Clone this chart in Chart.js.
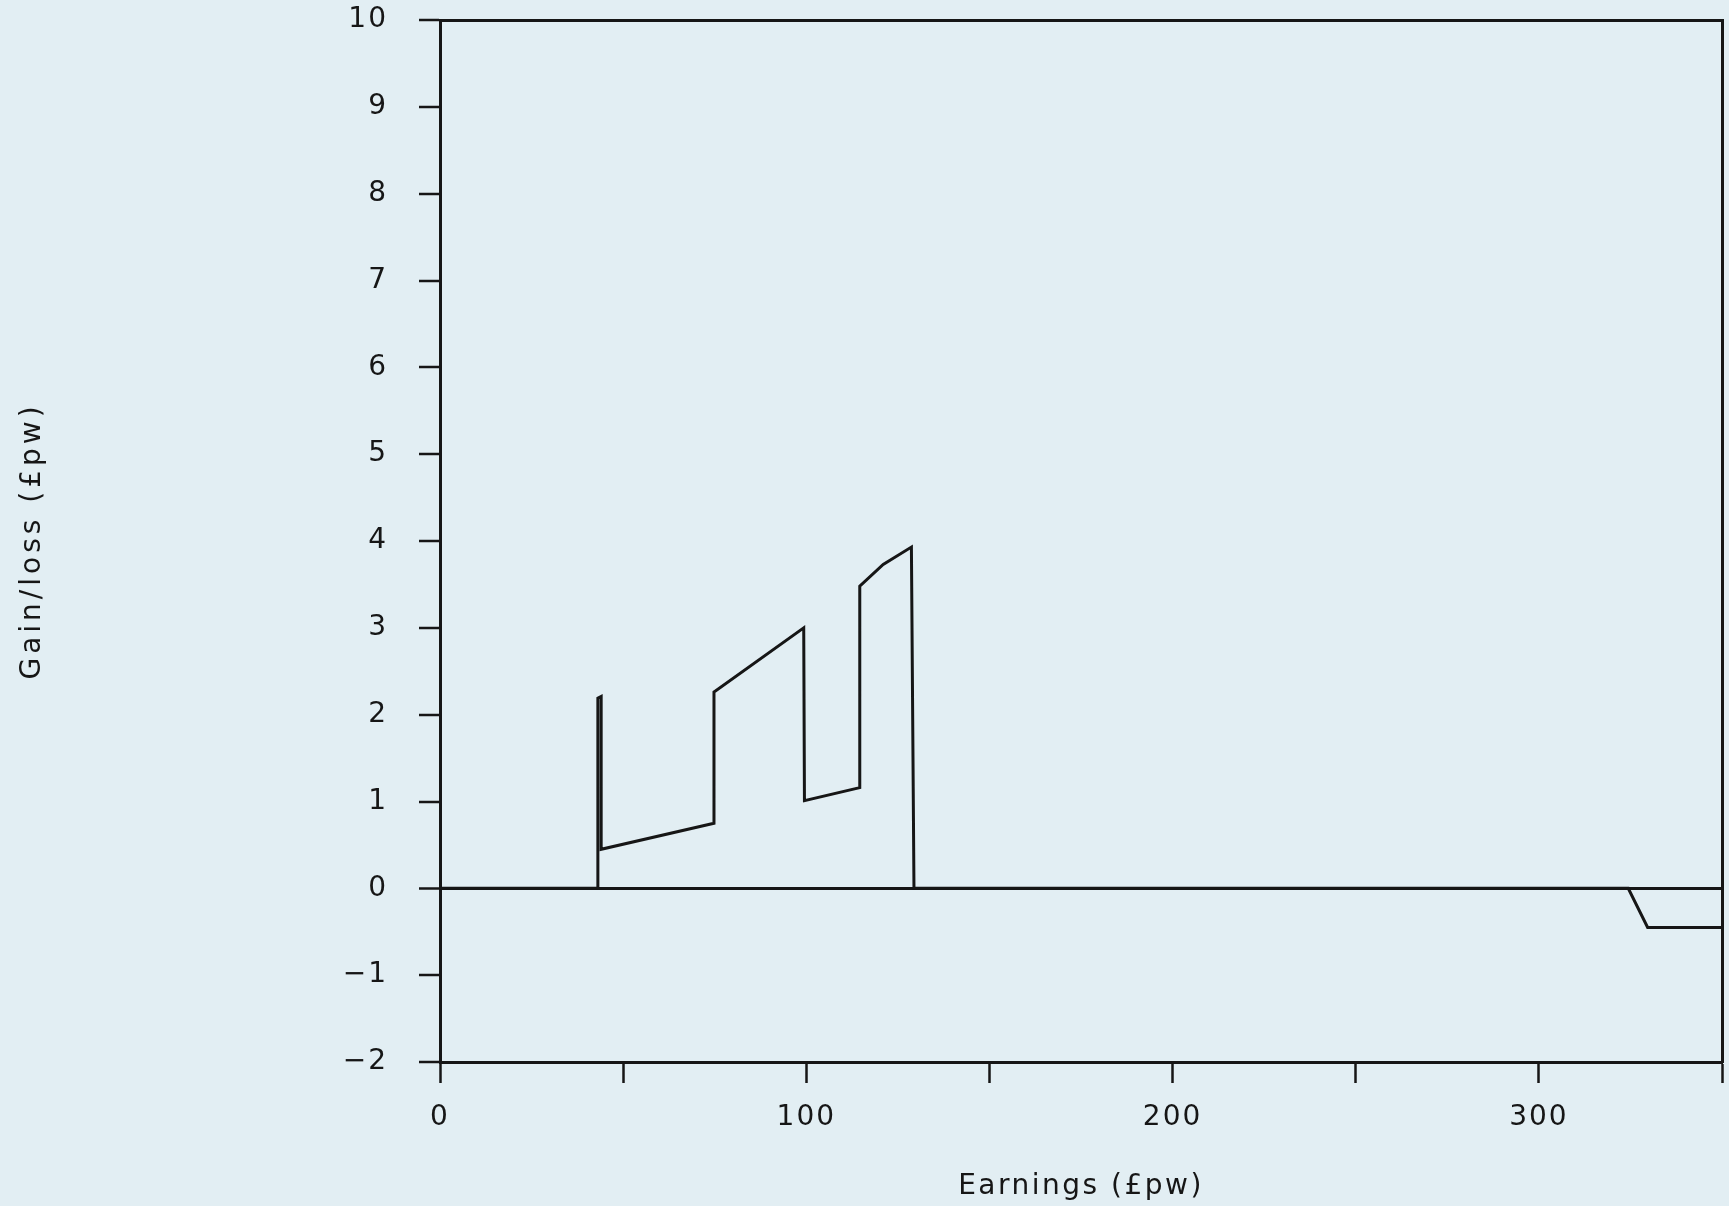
<!DOCTYPE html>
<html>
<head>
<meta charset="utf-8">
<script src="https://cdn.jsdelivr.net/npm/chart.js@4/dist/chart.umd.min.js"></script>
<style>
  html, body { margin: 0; padding: 0; background: #e2eef3; }
  #wrap { width: 1729px; height: 1206px; }
</style>
</head>
<body>
<div id="wrap"><canvas id="c" width="1729" height="1206"></canvas></div>
<script>
// Data
const earnings = [0, 43.1, 43.1, 44.0, 44.0, 74.8, 74.8, 99.3, 99.5, 114.6, 114.6, 121.0, 128.7, 129.4, 324.4, 329.7, 350];
const gainLoss = [0, 0, 2.19, 2.21, 0.45, 0.75, 2.26, 3.00, 1.01, 1.16, 3.48, 3.73, 3.93, 0, 0, -0.45, -0.45];

const xLimits = [0, 350];
const yLimits = [-2, 10];
const xTitle = 'Earnings (£pw)';
const yTitle = 'Gain/loss (£pw)';

const ink = '#161616';
const titleSpacing = { x: '2.5px', y: '4px' };
const tickSpacing = '2px';

function withSpacing(fn, spacing) {
  return function () {
    const ctx = this.ctx;
    const prev = ctx.letterSpacing;
    ctx.letterSpacing = spacing;
    fn.apply(this, arguments);
    ctx.letterSpacing = prev || '0px';
  };
}

const spacedText = {
  id: 'spacedText',
  afterLayout(chart) {
    for (const id of ['x', 'y']) {
      const s = chart.scales[id];
      if (s && !s._spacedText) {
        s.drawTitle = withSpacing(s.drawTitle, titleSpacing[id]);
        s.drawLabels = withSpacing(s.drawLabels, tickSpacing);
        s._spacedText = true;
      }
    }
  }
};

function noPad(scale) {
  scale.paddingTop = 0;
  scale.paddingBottom = 0;
  scale.paddingLeft = 0;
  scale.paddingRight = 0;
}

const points = earnings.map((e, i) => ({ x: e, y: gainLoss[i] }));

new Chart(document.getElementById('c'), {
  type: 'line',
  data: {
    datasets: [{
      data: points,
      borderColor: ink,
      borderWidth: 3,
      pointRadius: 0,
      tension: 0,
      fill: false
    }]
  },
  plugins: [spacedText],
  options: {
    responsive: false,
    animation: false,
    events: [],
    layout: { padding: { top: 20, right: 7, left: 0, bottom: 0 } },
    plugins: { legend: { display: false }, tooltip: { enabled: false } },
    scales: {
      x: {
        type: 'linear',
        position: 'bottom',
        min: xLimits[0], max: xLimits[1],
        afterFit(scale) { scale.height = 144; noPad(scale); },
        ticks: {
          stepSize: 50,
          autoSkip: false,
          maxRotation: 0,
          padding: 18,
          color: ink,
          font: { family: 'DejaVu Sans', size: 28 },
          callback: v => (v % 100 === 0 ? String(v) : '')
        },
        grid: {
          drawOnChartArea: false,
          drawTicks: true,
          tickLength: 21,
          tickWidth: 2.5,
          tickColor: ink
        },
        border: { display: true, color: ink, width: 3 },
        title: {
          display: true,
          text: xTitle,
          color: ink,
          font: { family: 'DejaVu Sans', size: 28 },
          padding: { top: 0, bottom: 2 }
        }
      },
      y: {
        type: 'linear',
        position: 'left',
        min: yLimits[0], max: yLimits[1],
        afterFit(scale) { scale.width = 440; noPad(scale); },
        ticks: {
          stepSize: 1,
          autoSkip: false,
          padding: 31,
          color: ink,
          font: { family: 'DejaVu Sans', size: 28 },
          callback: v => (v < 0 ? '\u2212' + Math.abs(v) : String(v))
        },
        grid: {
          drawOnChartArea: true,
          color: c => (c.tick && c.tick.value === 0 ? ink : 'rgba(0,0,0,0)'),
          lineWidth: c => (c.tick && c.tick.value === 0 ? 3 : 0),
          drawTicks: true,
          tickLength: 21,
          tickWidth: 2.5,
          tickColor: ink
        },
        border: { display: true, color: ink, width: 3 },
        title: {
          display: true,
          text: yTitle,
          color: ink,
          font: { family: 'DejaVu Sans', size: 28 },
          padding: { top: 16, bottom: 0 }
        }
      },
      xTop: {
        type: 'linear',
        position: 'top',
        min: xLimits[0], max: xLimits[1],
        afterFit(scale) { scale.height = 0; noPad(scale); },
        ticks: { display: false },
        grid: { display: true, drawOnChartArea: false, drawTicks: false },
        border: { display: true, color: ink, width: 3 }
      },
      yRight: {
        type: 'linear',
        position: 'right',
        min: yLimits[0], max: yLimits[1],
        afterFit(scale) { scale.width = 0; noPad(scale); },
        ticks: { display: false },
        grid: { display: true, drawOnChartArea: false, drawTicks: false },
        border: { display: true, color: ink, width: 3 }
      }
    }
  }
});
</script>
</body>
</html>
